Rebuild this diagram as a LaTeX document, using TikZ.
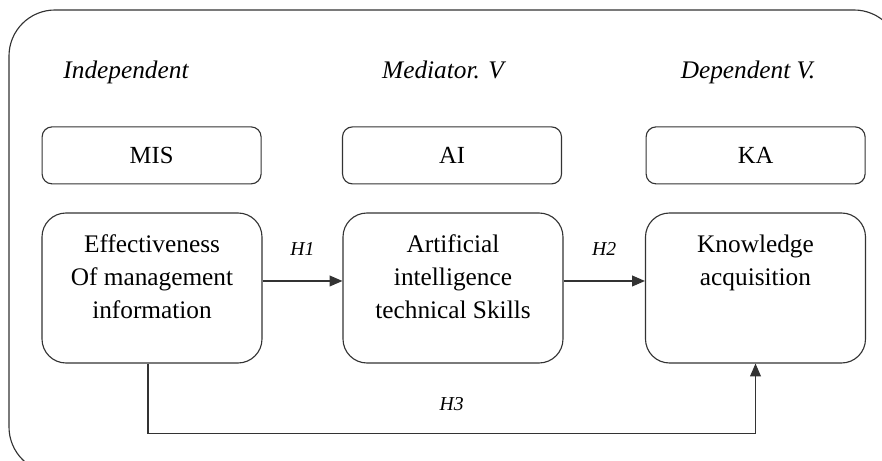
\documentclass[tikz,border=0pt]{standalone}
\usepackage{fontspec}
\setmainfont{Liberation Serif}
\usetikzlibrary{arrows.meta,positioning}

\begin{document}
\begin{tikzpicture}[
    line/.style={draw=black!80, line width=0.8pt},
    smallbox/.style={line, rounded corners=0.25cm, minimum width=5.475cm, minimum height=1.425cm, inner sep=0pt, font=\fontsize{17.5}{23.5}\selectfont},
    bigbox/.style={line, rounded corners=0.6cm, minimum width=5.5cm, minimum height=3.75cm, inner sep=0pt},
    boxtext/.style={anchor=north, align=center, inner sep=0pt, yshift=-0.55cm, font=\fontsize{18}{23.5}\selectfont},
    heading/.style={anchor=base, font=\fontsize{18}{23.5}\itshape},
    hyp/.style={font=\fontsize{14}{16}\itshape},
    arr/.style={line, -{Triangle[length=0.32cm,width=0.27cm]}}
  ]
    \useasboundingbox (0,0) rectangle (22.05,11.525);
    \clip (0,0) rectangle (22.05,11.525);

    % outer frame
    \draw[line, rounded corners=1.15cm] (0.225,-0.3) rectangle (22.5,11.275);

    % headings
    \node[heading] (indep) at (3.15,9.55) {Independent};
    \node[heading] (medi) at (11.075,9.55) {Mediator. V};
    \node[heading] (dep) at (18.7,9.55) {Dependent V.};

    % short names
    \node[smallbox] (mis) at (3.79,7.64) {MIS};
    \node[smallbox] (ai) at (11.3,7.64) {AI};
    \node[smallbox] (ka) at (18.89,7.64) {KA};

    % variable boxes
    \node[bigbox, label={[boxtext]north:Effectiveness\\Of management\\information}] (eff) at (3.8,4.325) {};
    \node[bigbox, label={[boxtext]north:Artificial\\intelligence\\technical Skills}] (aits) at (11.325,4.325) {};
    \node[bigbox, label={[boxtext]north:Knowledge\\acquisition}] (kacq) at (18.8875,4.325) {};

    % hypotheses
    \draw[arr] ([yshift=0.175cm]eff.east) -- node[hyp, above=0.5cm] (h1) {H1} ([yshift=0.175cm]aits.west);
    \draw[arr] ([yshift=0.175cm]aits.east) -- node[hyp, above=0.5cm] (h2) {H2} ([yshift=0.175cm]kacq.west);
    \draw[arr] ([xshift=-0.1cm]eff.south) -- ++(0,-1.75) coordinate (corner)
        -- node[hyp, above=0.45cm] (h3) {H3} (corner -| kacq.south) -- (kacq.south);
\end{tikzpicture}
\end{document}
